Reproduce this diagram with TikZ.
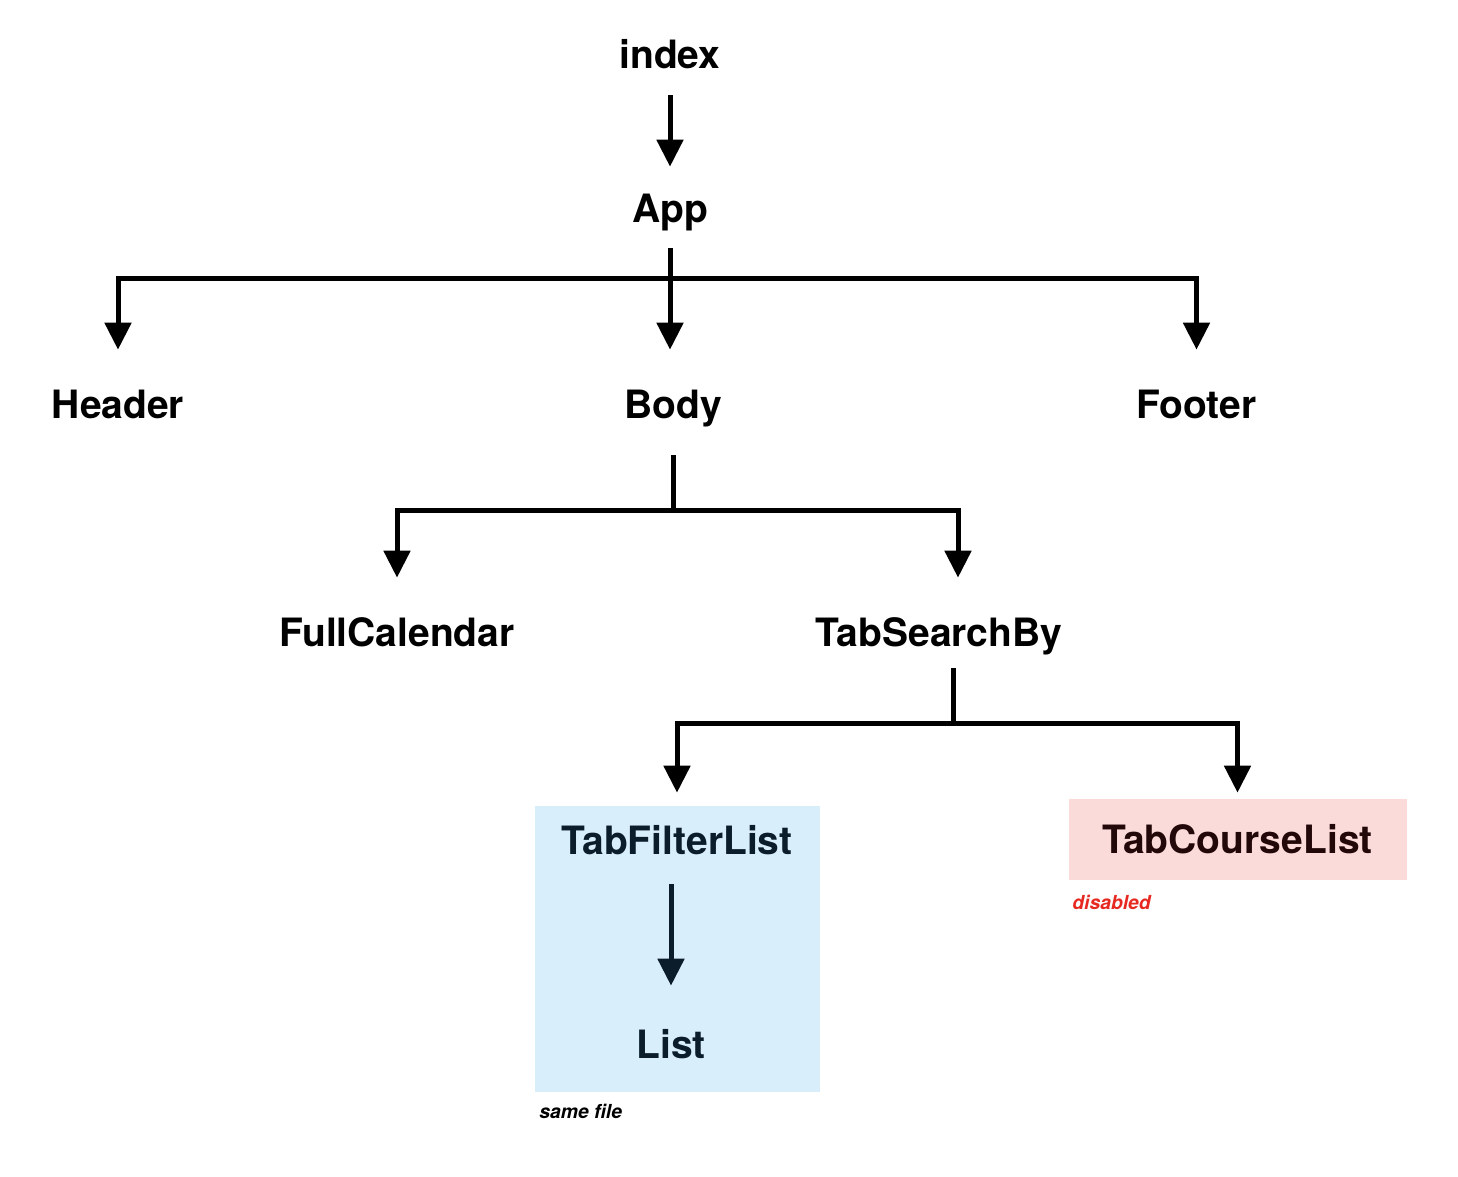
\documentclass[tikz,border=0pt]{standalone}
\usepackage{fontspec}
\setmainfont{TeX Gyre Heros}
\usetikzlibrary{arrows.meta}

\definecolor{boxblue}{HTML}{D9EEFB}
\definecolor{boxpink}{HTML}{FADBD9}
\definecolor{inkblue}{HTML}{0B1D2B}
\definecolor{inkbrown}{HTML}{220808}
\definecolor{notered}{HTML}{E62A22}

\begin{document}
\begin{tikzpicture}[
    comp/.style={anchor=base, inner sep=0pt, text height=0.54cm, text depth=0.16cm, font=\bfseries\fontsize{22.2}{26}\selectfont},
    note/.style={anchor=base west, inner sep=0pt, font=\bfseries\itshape\fontsize{11}{13}\selectfont},
    bar/.style={line width=0.1cm},
    arr/.style={line width=0.1cm, -{Triangle[width=0.52cm, length=0.54cm]}}
]
    \useasboundingbox (0, 0) rectangle (29.16, -23.52);

    \node[fill=boxblue, minimum width=5.7cm, minimum height=5.72cm] (filterbox) at (13.55, -18.98) {};
    \node[fill=boxpink, minimum width=6.76cm, minimum height=1.62cm] (coursebox) at (24.76, -16.79) {};

    \node[comp] (index) at (13.4, -1.36) {index};
    \node[comp] (app) at (13.4, -4.44) {App};
    \node[comp] (header) at (2.36, -8.36) {Header};
    \node[comp] (body) at (13.46, -8.36) {Body};
    \node[comp] (footer) at (23.93, -8.36) {Footer};
    \node[comp] (fullcal) at (7.94, -12.92) {FullCalendar};
    \node[comp] (tabsearch) at (18.78, -12.92) {TabSearchBy};
    \node[comp, inkblue] (tabfilter) at (13.54, -17.08) {TabFilterList};
    \node[comp, inkblue] (list) at (13.42, -21.16) {List};
    \node[comp, inkbrown] (tabcourse) at (24.75, -17.06) {TabCourseList};
    \node[note] (samefile) at (10.78, -22.36) {same file};
    \node[note, notered] (disabled) at (21.44, -18.18) {disabled};

    \coordinate (appbus) at (13.4, -5.56);
    \coordinate (bodybus) at (13.46, -10.2);
    \coordinate (searchbus) at (19.06, -14.46);

    \draw[arr, shorten <=0.38cm, shorten >=0.56cm] (index) -- (app);

    \draw[arr, shorten <=0.36cm, shorten >=0.82cm] (app) -- (app |- body.north);
    \draw[arr, shorten >=0.82cm] (appbus) -| (header);
    \draw[arr, shorten >=0.82cm] (appbus) -| (footer);

    \draw[bar, shorten <=0.58cm] (body) -- (bodybus);
    \draw[arr, shorten >=0.82cm] (bodybus) -| (fullcal);
    \draw[arr, shorten >=0.82cm] (bodybus) -| ([xshift=0.38cm]tabsearch.north);

    \draw[bar, shorten <=0.28cm] (tabsearch.south -| searchbus) -- (searchbus);
    \draw[arr, shorten >=0.68cm] (searchbus) -| (tabfilter);
    \draw[arr, shorten >=0.66cm] (searchbus) -| (tabcourse);

    \draw[arr, inkblue, shorten <=0.44cm, shorten >=0.9cm] (tabfilter.south -| list) -- (list);
\end{tikzpicture}
\end{document}
